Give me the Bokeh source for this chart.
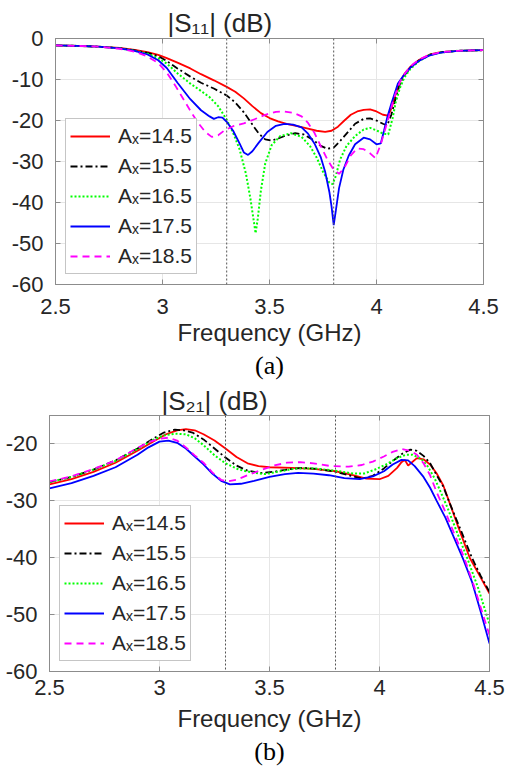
from bokeh.plotting import figure
from bokeh.layouts import column
from bokeh.models import (Span, Legend, LegendItem, FixedTicker, CustomJSTickFormatter,
                          Title, Range1d, LinearAxis)
from bokeh.embed import file_html
from bokeh.resources import INLINE

# ---------------- data ----------------
labels = ["Aₓ=14.5", "Aₓ=15.5", "Aₓ=16.5", "Aₓ=17.5", "Aₓ=18.5"]
band_edges = [3.3, 3.8]
x_ticks = [2.5, 3, 3.5, 4, 4.5]
s11_ticks = [0, -10, -20, -30, -40, -50, -60]
s21_ticks = [-20, -30, -40, -50, -60]

# |S11| (dB)
s11_f_145 = [2.5, 2.6, 2.7, 2.8, 2.87, 2.93, 2.98, 3.02, 3.07, 3.13, 3.18, 3.24, 3.3, 3.34, 3.38,
             3.42, 3.46, 3.5, 3.54, 3.58, 3.63, 3.68, 3.72, 3.76, 3.79, 3.82, 3.85, 3.88, 3.91,
             3.94, 3.97, 4.0, 4.03, 4.055, 4.07, 4.09, 4.11, 4.13, 4.16, 4.2, 4.25, 4.3, 4.38,
             4.45, 4.5]
s11_db_145 = [-1.7, -1.8, -2.0, -2.3, -2.8, -3.3, -4.0, -4.8, -5.9, -7.3, -8.7, -10.2, -11.8, -13.0,
              -14.6, -16.5, -18.2, -19.4, -20.2, -20.8, -21.4, -22.0, -22.5, -22.8, -22.5, -21.5,
              -20.0, -18.6, -17.8, -17.4, -17.3, -17.8, -18.6, -18.8, -17.0, -13.5, -10.5, -8.7,
              -6.8, -5.2, -3.9, -3.35, -3.0, -2.9, -2.85]

s11_f_155 = [2.5, 2.6, 2.7, 2.8, 2.87, 2.93, 2.98, 3.02, 3.07, 3.13, 3.18, 3.24, 3.3, 3.34, 3.38,
             3.42, 3.45, 3.48, 3.51, 3.54, 3.58, 3.62, 3.66, 3.7, 3.74, 3.77, 3.8, 3.83, 3.86,
             3.9, 3.94, 3.97, 4.0, 4.03, 4.05, 4.07, 4.09, 4.11, 4.13, 4.16, 4.2, 4.25, 4.3,
             4.38, 4.45, 4.5]
s11_db_155 = [-1.7, -1.8, -2.0, -2.35, -2.9, -3.5, -4.3, -5.5, -7.3, -9.3, -10.8, -12.2, -13.9,
              -15.6, -18.0, -21.0, -23.2, -24.6, -24.9, -24.4, -23.6, -23.1, -23.4, -24.6, -26.2,
              -26.9, -26.6, -25.0, -23.2, -20.8, -19.6, -19.5, -20.0, -20.8, -21.2, -18.5, -14.5,
              -11.0, -9.0, -7.0, -5.3, -3.95, -3.35, -3.0, -2.9, -2.85]

s11_f_165 = [2.5, 2.6, 2.7, 2.8, 2.87, 2.93, 2.98, 3.02, 3.07, 3.13, 3.18, 3.22, 3.26, 3.3, 3.33,
             3.36, 3.39, 3.41, 3.425, 3.435, 3.445, 3.46, 3.48, 3.51, 3.55, 3.6, 3.65, 3.69,
             3.72, 3.75, 3.78, 3.795, 3.81, 3.83, 3.86, 3.9, 3.94, 3.97, 4.0, 4.03, 4.055,
             4.075, 4.09, 4.11, 4.13, 4.16, 4.2, 4.25, 4.3, 4.38, 4.45, 4.5]
s11_db_165 = [-1.7, -1.8, -2.0, -2.4, -3.0, -3.7, -4.8, -6.1, -8.5, -11.0, -12.8, -14.3, -16.5,
              -19.8, -23.0, -27.0, -33.0, -38.8, -44.0, -47.5, -44.0, -37.0, -30.5, -26.0, -23.8,
              -23.1, -24.0, -26.3, -29.0, -32.5, -35.2, -35.5, -33.5, -29.5, -26.2, -23.8, -22.2,
              -21.8, -22.4, -23.2, -23.4, -19.5, -15.5, -12.0, -9.5, -7.3, -5.5, -4.0, -3.4,
              -3.0, -2.9, -2.85]

s11_f_175 = [2.5, 2.6, 2.7, 2.8, 2.87, 2.93, 2.98, 3.02, 3.07, 3.13, 3.18, 3.22, 3.24, 3.26, 3.28,
             3.3, 3.33, 3.36, 3.38, 3.4, 3.42, 3.45, 3.49, 3.53, 3.57, 3.61, 3.65, 3.68, 3.71,
             3.74, 3.76, 3.78, 3.79, 3.8, 3.81, 3.825, 3.845, 3.87, 3.9, 3.94, 3.97, 4.0, 4.02,
             4.035, 4.05, 4.07, 4.1, 4.13, 4.16, 4.2, 4.25, 4.3, 4.38, 4.45, 4.5]
s11_db_175 = [-1.7, -1.8, -2.0, -2.4, -3.0, -3.9, -5.3, -7.2, -10.8, -14.8, -17.5, -19.0, -19.6,
              -19.2, -19.3, -20.3, -22.5, -25.6, -27.8, -28.4, -27.5, -25.4, -22.8, -21.3, -20.8,
              -21.0, -21.7, -23.2, -25.6, -29.0, -32.5, -37.5, -41.0, -45.5, -42.0, -36.5, -32.0,
              -28.6, -25.8, -24.2, -24.6, -25.8, -25.6, -22.5, -19.3, -15.8, -11.0, -8.8, -7.0,
              -5.4, -4.1, -3.45, -3.0, -2.9, -2.85]

s11_f_185 = [2.5, 2.6, 2.7, 2.8, 2.87, 2.93, 2.98, 3.02, 3.06, 3.1, 3.14, 3.17, 3.2, 3.23, 3.26,
             3.29, 3.33, 3.38, 3.43, 3.48, 3.53, 3.57, 3.61, 3.65, 3.68, 3.71, 3.74, 3.77, 3.8,
             3.825, 3.85, 3.88, 3.91, 3.94, 3.97, 3.995, 4.02, 4.05, 4.08, 4.11, 4.14, 4.17,
             4.2, 4.25, 4.3, 4.38, 4.45, 4.5]
s11_db_185 = [-1.7, -1.8, -2.0, -2.5, -3.2, -4.4, -6.0, -8.3, -11.5, -15.0, -18.5, -20.8, -22.8,
              -24.0, -23.6, -22.4, -21.4, -20.7, -19.7, -18.6, -17.9, -17.8, -18.1, -19.0, -20.6,
              -23.0, -26.3, -29.5, -32.0, -33.0, -31.5, -28.5, -26.8, -27.0, -28.0, -29.2, -25.8,
              -20.5, -14.8, -10.5, -8.0, -6.3, -5.1, -3.9, -3.35, -3.0, -2.9, -2.85]

# |S21| (dB)
s21_f_145 = [2.5, 2.6, 2.7, 2.8, 2.9, 2.97, 3.03, 3.08, 3.12, 3.16, 3.2, 3.25, 3.3, 3.35, 3.4, 3.45,
             3.5, 3.6, 3.7, 3.8, 3.87, 3.94, 4.0, 4.04, 4.08, 4.1, 4.115, 4.13, 4.145, 4.17, 4.2,
             4.23, 4.26, 4.29, 4.32, 4.36, 4.41, 4.46, 4.5]
s21_db_145 = [-27.1, -26.2, -24.9, -23.3, -21.2, -19.6, -18.3, -17.6, -17.4, -17.6, -18.3, -19.4,
              -20.8, -22.3, -23.4, -23.9, -24.1, -24.2, -24.4, -24.8, -25.4, -26.1, -26.2, -25.6,
              -24.2, -23.2, -22.8, -23.8, -23.3, -22.5, -22.7, -23.6, -25.2, -27.3, -30.5, -34.8,
              -40.0, -43.5, -46.3]

s21_f_155 = [2.5, 2.6, 2.7, 2.8, 2.9, 2.97, 3.02, 3.07, 3.11, 3.15, 3.2, 3.25, 3.3, 3.35, 3.4, 3.46,
             3.52, 3.58, 3.65, 3.72, 3.8, 3.87, 3.92, 3.97, 4.02, 4.06, 4.1, 4.14, 4.17, 4.2,
             4.23, 4.26, 4.29, 4.32, 4.37, 4.42, 4.46, 4.5]
s21_db_155 = [-26.7, -25.8, -24.5, -22.9, -20.8, -19.1, -18.0, -17.5, -17.6, -18.0, -19.2, -20.8,
              -22.4, -23.8, -24.7, -25.1, -24.9, -24.5, -24.2, -24.4, -24.9, -25.6, -26.1, -25.6,
              -24.3, -23.0, -21.8, -21.0, -21.2, -22.1, -23.4, -25.5, -27.5, -30.5, -35.2, -40.0,
              -43.2, -46.0]

s21_f_165 = [2.5, 2.6, 2.7, 2.8, 2.9, 2.97, 3.02, 3.07, 3.12, 3.16, 3.2, 3.25, 3.3, 3.36, 3.42, 3.48,
             3.55, 3.62, 3.7, 3.8, 3.88, 3.93, 3.98, 4.03, 4.08, 4.12, 4.15, 4.19, 4.22, 4.25,
             4.28, 4.31, 4.35, 4.4, 4.45, 4.5]
s21_db_165 = [-26.7, -25.8, -24.5, -23.0, -20.9, -19.3, -18.5, -18.2, -18.3, -19.0, -20.2, -22.0,
              -23.4, -24.5, -25.0, -25.3, -24.8, -24.3, -24.3, -24.7, -25.2, -25.2, -24.5, -23.6,
              -22.5, -21.9, -21.9, -22.6, -24.0, -26.0, -28.6, -31.3, -35.3, -40.2, -45.5, -51.7]

s21_f_175 = [2.5, 2.6, 2.7, 2.8, 2.9, 2.95, 3.0, 3.04, 3.08, 3.12, 3.16, 3.2, 3.24, 3.28, 3.32,
             3.37, 3.43, 3.5, 3.57, 3.63, 3.7, 3.77, 3.84, 3.91, 3.97, 4.02, 4.06, 4.1, 4.13,
             4.16, 4.2, 4.23, 4.26, 4.3, 4.34, 4.38, 4.42, 4.46, 4.5]
s21_db_175 = [-27.8, -26.9, -25.6, -24.1, -21.9, -20.6, -19.6, -19.4, -19.8, -20.8, -22.2, -23.6,
              -25.2, -26.5, -27.1, -27.0, -26.5, -25.8, -25.3, -25.1, -25.2, -25.5, -26.0, -26.2,
              -25.7, -24.8, -23.6, -22.8, -22.9, -23.9, -25.8, -27.7, -30.0, -33.0, -36.6, -40.2,
              -44.2, -49.5, -55.1]

s21_f_185 = [2.5, 2.6, 2.7, 2.8, 2.9, 2.95, 3.0, 3.04, 3.08, 3.12, 3.16, 3.2, 3.24, 3.28, 3.31,
             3.35, 3.4, 3.46, 3.52, 3.58, 3.64, 3.7, 3.78, 3.86, 3.92, 3.97, 4.02, 4.06, 4.1,
             4.14, 4.17, 4.2, 4.23, 4.26, 4.3, 4.34, 4.385, 4.43, 4.47, 4.5]
s21_db_185 = [-26.6, -25.7, -24.4, -22.9, -20.7, -19.7, -19.1, -18.9, -19.4, -20.6, -22.0, -23.3,
              -25.0, -26.3, -26.6, -26.3, -25.5, -24.6, -23.8, -23.3, -23.2, -23.4, -23.9, -24.0,
              -23.7, -23.1, -22.2, -21.4, -20.9, -21.2, -21.9, -23.4, -25.5, -28.5, -32.0, -35.8,
              -40.0, -45.0, -50.0, -53.6]

s11_series = [(s11_f_145, s11_db_145), (s11_f_155, s11_db_155), (s11_f_165, s11_db_165),
              (s11_f_175, s11_db_175), (s11_f_185, s11_db_185)]
s21_series = [(s21_f_145, s21_db_145), (s21_f_155, s21_db_155), (s21_f_165, s21_db_165),
              (s21_f_175, s21_db_175), (s21_f_185, s21_db_185)]

# ---------------- styles ----------------
colors = ["#ff0000", "#000000", "#00ff00", "#0000ff", "#ff00ff"]
dashes = ["solid", "7 3 2 3", "2 2", "solid", "7 5"]
widths = [1.8, 1.8, 2.0, 1.8, 1.8]
TXT = "#262626"
FRAME = "#8c8c8c"
FONT = "Liberation Sans"


def style_axis(ax, ticks, show_labels=True):
    ax.ticker = FixedTicker(ticks=ticks)
    ax.major_tick_in = 5
    ax.major_tick_out = 0
    ax.minor_tick_line_color = None
    ax.major_tick_line_color = FRAME
    ax.axis_line_color = FRAME
    ax.major_label_text_font = FONT
    ax.major_label_text_color = TXT
    ax.major_label_text_font_size = "22px"
    if show_labels:
        ax.formatter = CustomJSTickFormatter(code="return String(tick);")
    else:
        ax.formatter = CustomJSTickFormatter(code="return '';")
        ax.major_label_standoff = 0


def make_fig(title, sub, series, y_lo, y_hi, yticks, height, mb_left, mb_right, mb_top,
             mb_bottom, title_offset, title_standoff, tick_standoff, label_standoff,
             sub_standoff):
    p = figure(width=505, height=height, x_range=Range1d(2.5, 4.5),
               y_range=Range1d(y_lo, y_hi), output_backend="svg", toolbar_location=None,
               min_border_left=mb_left, min_border_right=mb_right,
               min_border_top=mb_top, min_border_bottom=mb_bottom,
               title=title)
    p.title.align = "left"
    p.title.offset = title_offset
    p.title.text_font = FONT
    p.title.text_font_size = "26px"
    p.title.text_font_style = "normal"
    p.title.text_color = TXT
    p.title.standoff = title_standoff

    p.outline_line_color = FRAME
    p.outline_line_width = 1
    p.background_fill_color = "white"
    p.border_fill_color = "white"

    style_axis(p.xaxis[0], x_ticks)
    style_axis(p.yaxis[0], yticks)
    p.xaxis.major_label_standoff = tick_standoff
    p.xaxis.axis_label = "Frequency (GHz)"
    p.xaxis.axis_label_text_font = FONT
    p.xaxis.axis_label_text_font_size = "24px"
    p.xaxis.axis_label_text_font_style = "normal"
    p.xaxis.axis_label_text_color = TXT
    p.xaxis.axis_label_standoff = label_standoff
    p.yaxis.major_label_standoff = 12

    # box ticks on the top and right edges (no labels)
    top_ax = LinearAxis()
    style_axis(top_ax, x_ticks, show_labels=False)
    p.add_layout(top_ax, "above")
    right_ax = LinearAxis()
    style_axis(right_ax, yticks, show_labels=False)
    p.add_layout(right_ax, "right")

    p.xgrid.ticker = FixedTicker(ticks=x_ticks)
    p.ygrid.ticker = FixedTicker(ticks=yticks)
    p.grid.grid_line_color = "#e6e6e6"
    p.grid.grid_line_width = 1

    for loc in band_edges:
        p.add_layout(Span(location=loc, dimension="height", line_color="#555555",
                          line_width=1, line_dash="2 2"))

    items = []
    for (f, db), lab, c, d, w in zip(series, labels, colors, dashes, widths):
        r = p.line(f, db, line_color=c, line_dash=d, line_width=w)
        items.append(LegendItem(label=lab, renderers=[r]))

    leg = Legend(items=items, location="bottom_left", margin=10,
                 label_text_font=FONT, label_text_font_size="21px", label_text_color=TXT,
                 glyph_width=40, glyph_height=26, label_height=26, spacing=4, padding=4,
                 label_standoff=8, border_line_color=FRAME, border_line_width=1,
                 background_fill_color="white", background_fill_alpha=1.0)
    p.add_layout(leg)

    p.add_layout(Title(text=sub, align="center", text_font="Liberation Serif",
                       text_font_size="26px", text_font_style="normal", text_color="#000000",
                       standoff=sub_standoff), "below")
    return p


p1 = make_fig("|S₁₁| (dB)", "(a)", s11_series, -60, 0, s11_ticks, 383,
              55, 22, 38, 99, 112, 2, 14, 2, 0)
p2 = make_fig("|S₂₁| (dB)", "(b)", s21_series, -60, -15, s21_ticks, 383,
              49, 16, 30, 95, 112, 0, 8, 7, 0)

layout = column(column(p1), column(p2), spacing=0)
open("out.html", "w").write(file_html(layout, INLINE))
